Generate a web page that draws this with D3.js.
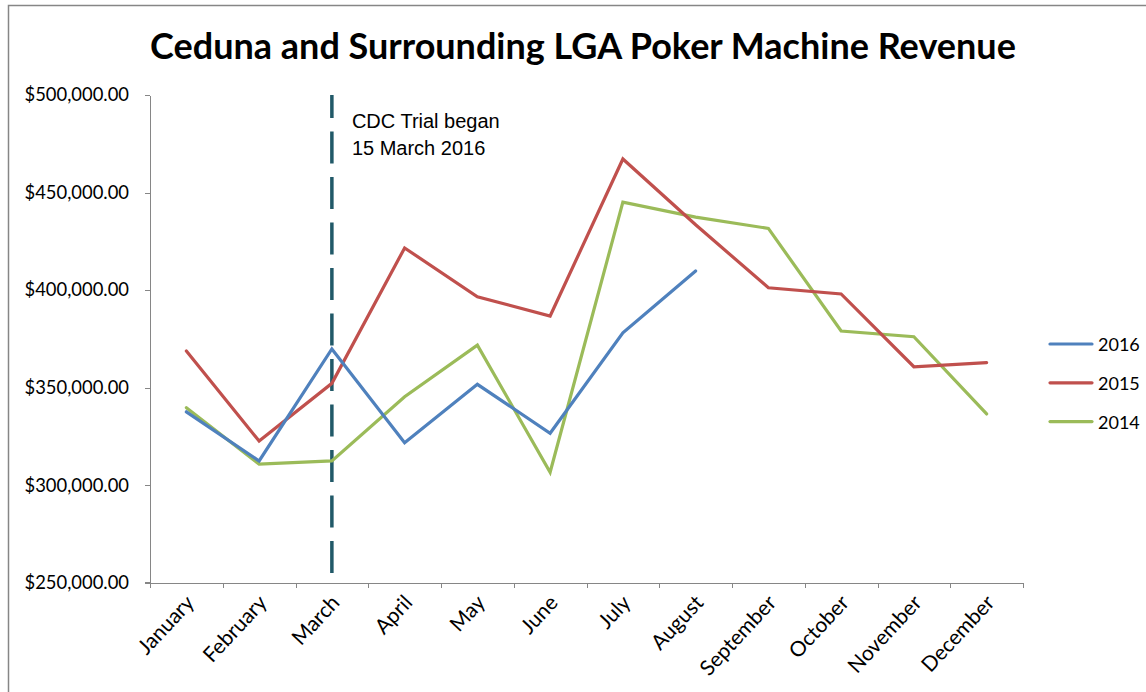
<!DOCTYPE html>
<html>
<head>
<meta charset="utf-8">
<script src="https://cdn.jsdelivr.net/npm/d3@7"></script>
<style>
  body { margin: 0; background: #fff; }
  svg { display: block; }
  .axis path, .axis line { stroke: #868686; shape-rendering: crispEdges; }
  .axis text { font-family: Lato, "Open Sans", sans-serif; font-size: 18px; fill: #000; }
</style>
</head>
<body>
<div id="chart"></div>
<script>
var months = ["January", "February", "March", "April", "May", "June",
  "July", "August", "September", "October", "November", "December"];
var seriesNames = ["2016", "2015", "2014"];
var values2016 = [337600, 312400, 369800, 321800, 351700, 326600, 378100, 409800];
var values2015 = [368800, 322600, 352200, 421600, 396600, 386700, 467200, 433500, 401200, 398000, 360700, 362800];
var values2014 = [339700, 310800, 312400, 345300, 371800, 306600, 445100, 437400, 431600, 379000, 376100, 336500];
var yTicks = [250000, 300000, 350000, 400000, 450000, 500000];
var markerMonth = "March";
var markerText = ["CDC Trial began", "15 March 2016"];

var W = 1146, H = 692;
var margin = {top: 95, right: 123, bottom: 109, left: 150};
var colors = {"2016": "#4f81bd", "2015": "#c0504d", "2014": "#9bbb59"};

var svg = d3.select('#chart').append('svg')
  .attr('width', W)
  .attr('height', H);

// chart frame
svg.append('rect')
  .attr('x', 8.5).attr('y', 5.5)
  .attr('width', W + 10).attr('height', H + 10)
  .attr('fill', 'none')
  .attr('stroke', '#868686')
  .attr('stroke-width', 1.5);

svg.append('text')
  .attr('x', 583).attr('y', 59)
  .attr('text-anchor', 'middle')
  .style('font-family', 'Lato, "Open Sans", sans-serif')
  .style('font-weight', 'bold')
  .style('font-size', '36px')
  .text('Ceduna and Surrounding LGA Poker Machine Revenue');

var x = d3.scaleBand()
  .domain(months)
  .range([margin.left, W - margin.right]);
var xEdges = d3.scaleLinear()
  .domain([0, months.length])
  .range([margin.left, W - margin.right]);
var y = d3.scaleLinear()
  .domain([250000, 500000])
  .range([H - margin.bottom - 0.3, margin.top]);

function cx(m) { return x(m) + x.bandwidth() / 2; }

// y axis
svg.append('g')
  .attr('class', 'axis')
  .attr('transform', 'translate(' + margin.left + ',0)')
  .call(d3.axisLeft(y).tickValues(yTicks).tickSize(5).tickSizeOuter(0).tickPadding(16)
    .tickFormat(function(d) { return '$' + d3.format(',.2f')(d); }))
  .selectAll('text')
  .style('font-size', '18.4px');

// x axis: tick marks between categories
var baseY = y(250000);
svg.append('g')
  .attr('class', 'axis')
  .attr('transform', 'translate(0,' + baseY + ')')
  .call(d3.axisBottom(xEdges).ticks(months.length).tickSize(5).tickSizeOuter(0).tickFormat(''));
svg.append('line')
  .attr('x1', margin.left - 5).attr('x2', margin.left)
  .attr('y1', baseY).attr('y2', baseY)
  .attr('stroke', '#868686')
  .style('shape-rendering', 'crispEdges');

// x labels, rotated
svg.append('g')
  .attr('class', 'axis')
  .selectAll('text')
  .data(months)
  .enter().append('text')
  .attr('text-anchor', 'end')
  .style('font-size', '21px')
  .attr('transform', function(d) {
    return 'translate(' + (cx(d) + 9) + ',' + (baseY + 21) + ') rotate(-47)';
  })
  .text(function(d) { return d; });

// marker line
var mx = cx(markerMonth);
svg.append('line')
  .attr('x1', mx).attr('x2', mx)
  .attr('y1', y(500000)).attr('y2', y(253000))
  .attr('stroke', '#215968')
  .attr('stroke-width', 3.5)
  .attr('stroke-dasharray', '23,13.5,32,13.5,32,13.5,32,13.5,32,13.5,32,13.5,32,13.5,32,13.5,32,13.5,32,13.5,32,13.5');

svg.append('text')
  .attr('x', mx + 20).attr('y', 128)
  .style('font-family', '"Liberation Sans", Arial, sans-serif')
  .style('font-size', '20px')
  .selectAll('tspan')
  .data(markerText)
  .enter().append('tspan')
  .attr('x', mx + 20)
  .attr('dy', function(d, i) { return i === 0 ? 0 : 26.5; })
  .text(function(d) { return d; });

// series lines
var series = [
  {name: "2014", values: values2014},
  {name: "2015", values: values2015},
  {name: "2016", values: values2016}
];
var line = d3.line()
  .x(function(d, i) { return cx(months[i]); })
  .y(function(d) { return y(d); });

svg.append('g').selectAll('path')
  .data(series)
  .enter().append('path')
  .attr('d', function(d) { return line(d.values); })
  .attr('fill', 'none')
  .attr('stroke', function(d) { return colors[d.name]; })
  .attr('stroke-width', 3.2)
  .attr('stroke-linejoin', 'miter')
  .attr('stroke-linecap', 'round');

// legend
var legend = svg.append('g');
var items = legend.selectAll('g')
  .data(seriesNames)
  .enter().append('g')
  .attr('transform', function(d, i) { return 'translate(1050,' + (344 + i * 38.8) + ')'; });
items.append('line')
  .attr('x1', 0).attr('x2', 42)
  .attr('stroke', function(d) { return colors[d]; })
  .attr('stroke-width', 3.2)
  .attr('stroke-linecap', 'round');
items.append('text')
  .attr('x', 48).attr('y', 7)
  .style('font-family', 'Lato, "Open Sans", sans-serif')
  .style('font-size', '18px')
  .text(function(d) { return d; });
</script>
</body>
</html>
